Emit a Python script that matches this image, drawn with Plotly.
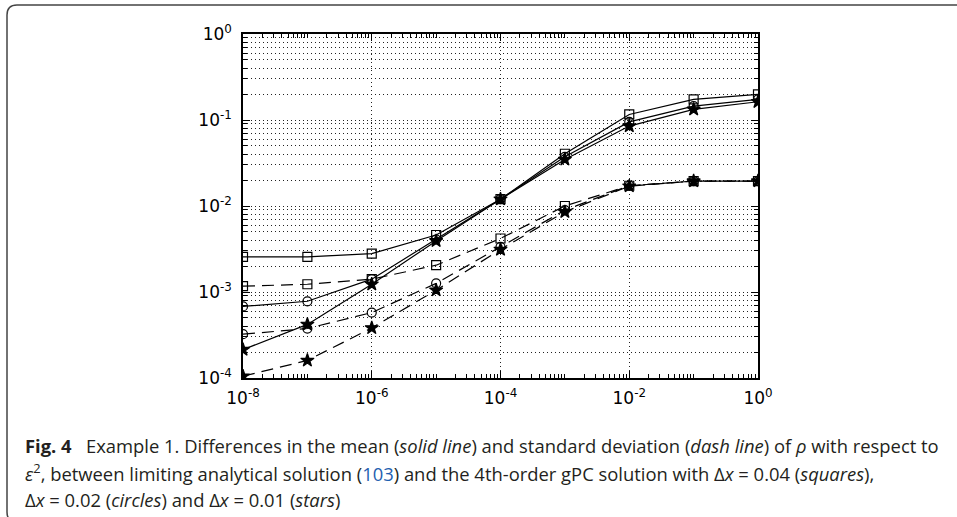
import plotly.graph_objects as go

# epsilon^2 sample points
eps2 = [1e-8, 1e-7, 1e-6, 1e-5, 1e-4, 1e-3, 1e-2, 1e-1, 1e0]

# differences in the mean (solid lines)
mean_dx004 = [2.56e-3, 2.56e-3, 2.8e-3, 4.6e-3, 1.2e-2, 4.05e-2, 0.116, 0.174, 0.199]
mean_dx002 = [6.8e-4, 7.8e-4, 1.41e-3, 4.08e-3, 1.2e-2, 3.73e-2, 0.095, 0.145, 0.174]
mean_dx001 = [2.14e-4, 4.2e-4, 1.23e-3, 3.93e-3, 1.2e-2, 3.48e-2, 0.085, 0.133, 0.163]

# differences in the standard deviation (dashed lines)
std_dx004 = [1.17e-3, 1.23e-3, 1.41e-3, 2.05e-3, 4.19e-3, 1.0e-2, 1.72e-2, 1.95e-2, 1.95e-2]
std_dx002 = [3.23e-4, 3.76e-4, 5.77e-4, 1.26e-3, 3.35e-3, 8.95e-3, 1.72e-2, 1.95e-2, 1.95e-2]
std_dx001 = [1.05e-4, 1.6e-4, 3.82e-4, 1.05e-3, 3.12e-3, 8.55e-3, 1.7e-2, 1.95e-2, 1.95e-2]

x_major = [1e-8, 1e-6, 1e-4, 1e-2, 1e0]
x_major_text = ["10<sup>-8</sup>", "10<sup>-6</sup>", "10<sup>-4</sup>", "10<sup>-2</sup>", "10<sup>0</sup>"]
y_major = [1e-4, 1e-3, 1e-2, 1e-1, 1e0]
y_major_text = ["10<sup>-4</sup>", "10<sup>-3</sup>", "10<sup>-2</sup>", "10<sup>-1</sup>", "10<sup>0</sup>"]

W, H = 957, 517
L, R, T, B = 243, 199, 34, 139
PW, PH = W - L - R, H - T - B


def px(x):
    return (x - L) / PW


def py(y):
    return (H - B - y) / PH


x_minor = [m * 10 ** k for k in range(-8, 0) for m in range(1, 10)
           if not (m == 1 and k % 2 == 0)]
y_minor = [m * 10 ** k for k in range(-4, 0) for m in range(2, 10)]

fig = go.Figure()

series = [
    (mean_dx004, "solid", "square-open", 9),
    (mean_dx002, "solid", "circle-open", 9),
    (mean_dx001, "solid", "star", 10),
    (std_dx004, "12px,7px", "square-open", 9),
    (std_dx002, "12px,7px", "circle-open", 9),
    (std_dx001, "12px,7px", "star", 10),
]
for ys, dash, sym, sz in series:
    fig.add_trace(go.Scatter(
        x=eps2, y=ys, mode="lines+markers",
        line=dict(color="black", width=1.2, dash=dash),
        marker=dict(symbol=sym, size=sz, color="black",
                    line=dict(color="black", width=1.2)),
        showlegend=False,
    ))

tick_font = dict(family="DejaVu Sans", size=17, color="black")

fig.update_xaxes(
    type="log", range=[-8, 0],
    tickmode="array", tickvals=x_major, ticktext=x_major_text,
    ticks="inside", ticklen=7, tickwidth=1, tickcolor="black",
    showline=True, linecolor="black", linewidth=1.5, mirror="ticks",
    showgrid=True, gridcolor="#222222", gridwidth=1, griddash="1px,3px",
    minor=dict(tickmode="array", tickvals=x_minor, ticks="inside",
               ticklen=4, tickwidth=1, tickcolor="black", showgrid=False),
    zeroline=False, tickfont=tick_font, ticklabelstandoff=4,
)
fig.update_yaxes(
    type="log", range=[-4, 0],
    tickmode="array", tickvals=y_major, ticktext=y_major_text,
    ticks="inside", ticklen=7, tickwidth=1, tickcolor="black",
    showline=True, linecolor="black", linewidth=1.5, mirror="ticks",
    showgrid=True, gridcolor="#222222", gridwidth=1, griddash="1px,3px",
    minor=dict(tickmode="array", tickvals=y_minor, ticks="inside",
               ticklen=4, tickwidth=1, tickcolor="black",
               showgrid=True, gridcolor="#222222", gridwidth=1, griddash="1px,3px"),
    zeroline=False, tickfont=tick_font, ticklabelstandoff=6,
)

# rounded caption frame (top edge and left edge)
r = 10
x0, y0, y1 = 7, 5, 522
frame = (f"M {px(W + 5)},{py(y0)} L {px(x0 + r)},{py(y0)} "
         f"Q {px(x0)},{py(y0)} {px(x0)},{py(y0 + r)} "
         f"L {px(x0)},{py(y1 - r)} Q {px(x0)},{py(y1)} {px(x0 + r)},{py(y1)}")
fig.add_shape(type="path", xref="paper", yref="paper", path=frame,
              line=dict(color="#444444", width=1.5), layer="above")

cap_font = dict(family="Open Sans", size=18.4, color="#231f20")
lines = [
    "<b>Fig. 4</b>&nbsp;&nbsp;&nbsp;Example 1. Differences in the mean (<i>solid line</i>) and "
    "standard deviation (<i>dash line</i>) of <i>ρ</i> with respect to",
    "<i>ε</i><sup>2</sup>, between limiting analytical solution "
    "(<span style='color:#1f5fb0'>103</span>) and the 4th-order gPC solution with "
    "Δ<i>x</i> = 0.04 (<i>squares</i>),",
    "Δ<i>x</i> = 0.02 (<i>circles</i>) and Δ<i>x</i> = 0.01 (<i>stars</i>)",
]
for yy, txt in zip([445, 472, 499], lines):
    fig.add_annotation(x=px(23), y=py(yy), xref="paper", yref="paper",
                       text=txt, showarrow=False, xanchor="left", yanchor="middle",
                       align="left", font=cap_font)

fig.update_layout(
    width=W, height=H,
    margin=dict(l=L, r=R, t=T, b=B),
    paper_bgcolor="white", plot_bgcolor="white",
)

fig.write_html("out.html")
